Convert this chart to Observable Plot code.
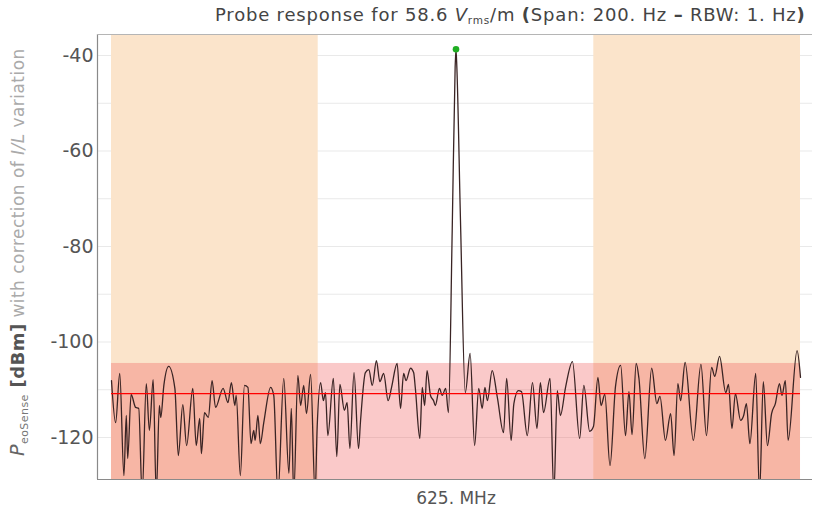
<!DOCTYPE html>
<html><head><meta charset="utf-8">
<script src="https://cdn.jsdelivr.net/npm/d3@7"></script>
<script src="https://cdn.jsdelivr.net/npm/@observablehq/plot@0.6"></script>
<style>body{margin:0;background:#fff;} svg{display:block;}</style>
</head><body><div id="chart"></div>
<script>
// Frequency offset from 625 MHz (Hz) and measured power (dBm)
const freq = [
-100,-98.8,-97.6,-96.4,-95.7,-95.3,-94.3,-93.0,-92.1,-91.1,-89.9,-89.0,-87.9,-87.0,-86.1,-85.7,-84.8,-83.4,-81.6,-80.6,
-79.3,-78.2,-76.4,-75.4,-74.4,-73.9,-73.0,-71.9,-70.8,-69.8,-67.6,-66.2,-65.2,-64.2,-63.8,-62.6,-61.4,-60.4,-59.5,-58.7,
-58.3,-57.5,-56.8,-55.8,-53.8,-52.9,-51.7,-50.0,-48.5,-47.8,-47.1,-45.9,-45.1,-44.2,-43.4,-42.2,-40.9,-40.3,-39.3,-38.5,
-37.9,-37.2,-35.6,-34.6,-33.7,-32.4,-31.6,-30.8,-29.6,-28.3,-27.7,-26.3,-25.3,-24.3,-23.1,-22.1,-21.0,-19.7,-18.7,-17.1,
-16.1,-15.2,-14.5,-13.2,-12.3,-11.8,-10.5,-9.8,-9.1,-8.4,-7.4,-6.5,-6.0,-4.8,-4.0,-3.0,-2.2,-1.1,-0.25,0,
0.25,1.3,2.7,4.1,5.4,6.6,7.6,8.4,9.1,10.5,12.0,13.8,14.7,16.0,16.8,18.1,19.0,20.7,22.2,23.5,
24.5,25.4,27.3,28.4,29.4,30.3,31.8,33.8,35.9,37.1,38.8,39.9,41.2,42.1,43.2,44.7,46.3,47.8,49.2,50.2,
51.1,52.3,53.1,54.8,56.8,58.3,59.2,60.8,62.3,63.3,64.4,65.2,66.5,68.9,71.1,72.7,74.2,75.1,76.5,78.3,
79.1,80.1,81.1,82.6,83.5,84.3,85.3,87.0,88.1,89.2,90.4,91.6,92.7,93.9,94.6,95.6,96.4,99.0,100
];
const power = [
-108.1,-116.9,-106.6,-128.0,-115.4,-124.4,-111.0,-113.7,-113.9,-132,-108.7,-118.5,-107.9,-132,-113.3,-115.8,-109.1,-105.1,-109.7,-123.8,
-113.1,-121.7,-109.7,-121.7,-116.0,-123.4,-114.8,-115.8,-108.1,-113.7,-109.7,-112.7,-108.5,-113.3,-111.2,-128.0,-109.1,-109.5,-121.3,-118.5,
-120.6,-115.4,-121.3,-116.9,-109.5,-111.2,-132,-107.6,-127.5,-113.9,-132,-107.0,-113.3,-109.1,-115.0,-106.8,-132,-117.9,-108.5,-112.3,
-110.6,-119.6,-107.6,-124.0,-108.9,-114.3,-112.7,-122.3,-106.4,-122.3,-116.4,-106.4,-105.8,-109.1,-103.9,-108.3,-106.6,-112.3,-109.5,-104.5,
-113.9,-106.6,-108.1,-105.5,-106.4,-109.7,-120.2,-109.5,-113.3,-106.0,-111.2,-112.3,-113.3,-109.7,-111.2,-109.7,-114.8,-76.7,-42.5,-38.7,
-42.5,-74.5,-110.6,-102.4,-121.7,-109.7,-113.9,-109.5,-112.3,-106.0,-111.6,-119.0,-107.6,-120.6,-112.9,-110.2,-110.4,-119.6,-108.5,-118.1,
-108.5,-114.8,-107.6,-132,-110.2,-115.4,-109.5,-104.1,-120.2,-109.1,-118.7,-117.7,-107.4,-113.3,-111.0,-125.9,-109.3,-104.9,-119.6,-110.4,
-119.4,-104.5,-107.6,-124.4,-105.5,-112.9,-111.4,-120.6,-115.0,-123.8,-108.7,-112.3,-104.3,-120.6,-104.7,-119.6,-105.3,-107.2,-103.0,-110.6,
-108.9,-118.1,-110.8,-116.4,-115.4,-112.9,-121.3,-106.6,-132,-108.3,-121.7,-115.0,-112.9,-108.7,-111.2,-108.1,-120.6,-101.8,-107.4
];
const peakFreq = [0];
const peakPower = [-38.7];
const noiseMean = [-110.8];
const noiseBandTop = [-104.5];
const spanLo = [-100];
const spanHi = [100];
const outerLo = [-100, 40];
const outerHi = [-40, 100];
const yTicks = [-120, -100, -80, -60, -40];
const gridValues = [-120, -110, -100, -90, -80, -70, -60, -50, -40];
const centerLabel = "625. MHz";
const xDomain = [-104.06, 103.48];
const yDomain = [-128.8, -35.6];

const trace = freq.map((f, i) => ({f, p: power[i]}));
const outer = outerLo.map((lo, i) => ({lo, hi: outerHi[i]}));
const band = [{lo: spanLo[0], hi: spanHi[0], bottom: yDomain[0], top: noiseBandTop[0]}];
const mean = [{lo: spanLo[0], hi: spanHi[0], v: noiseMean[0]}];
const peak = [{f: peakFreq[0], p: peakPower[0]}];

const FONT = "DejaVu Sans";

const chart = Plot.plot({
  width: 822, height: 515,
  marginLeft: 97, marginRight: 10, marginTop: 34, marginBottom: 36,
  style: {fontFamily: FONT, background: "#fff"},
  x: {domain: xDomain},
  y: {domain: yDomain},
  marks: [
    Plot.ruleY(gridValues, {stroke: "#e9e9e9", strokeWidth: 1}),
    Plot.rect(outer, {x1: "lo", x2: "hi", fill: "#fbe4cb"}),
    Plot.rect(band, {x1: "lo", x2: "hi", y1: "bottom", y2: "top", fill: "#f05050", fillOpacity: 0.31}),
    Plot.line(trace, {x: "f", y: "p", curve: "monotone-x", stroke: "#3a2424", strokeWidth: 1.3, clip: true}),
    Plot.ruleY(mean, {x1: "lo", x2: "hi", y: "v", stroke: "red", strokeWidth: 1.2}),
    Plot.dot(peak, {x: "f", y: "p", r: 3.3, fill: "#1fae22", stroke: "none"}),
    Plot.axisY({ticks: yTicks, tickSize: 0, tickPadding: 4, fontSize: 19, tickFormat: d => String(d), label: null, color: "#555"}),
    Plot.axisX({ticks: [0], tickSize: 0, tickPadding: 12, fontSize: 17, tickFormat: () => centerLabel, label: null, color: "#555"}),
    Plot.ruleX([xDomain[0]], {stroke: "#8a8a8a", strokeWidth: 1.2}),
    Plot.ruleY([yDomain[0]], {stroke: "#8a8a8a", strokeWidth: 1.2}),
    Plot.ruleY([yDomain[1]], {stroke: "#b5b5b5", strokeWidth: 1})
  ]
});

const svg = d3.select(chart);
// Title
const t = svg.append("text").attr("x", 215).attr("y", 21).attr("text-anchor", "start")
  .attr("font-family", FONT).attr("font-size", 18).attr("letter-spacing", 0.8).attr("fill", "#444");
t.append("tspan").text("Probe response for 58.6 ");
t.append("tspan").attr("font-style", "italic").text("V");
t.append("tspan").attr("font-size", 10.5).attr("dy", 3).text("rms");
t.append("tspan").attr("dy", -3).text("/m ");
t.append("tspan").attr("font-weight", "bold").text("(");
t.append("tspan").text("Span: 200. Hz ");
t.append("tspan").attr("font-weight", "bold").text("–");
t.append("tspan").text(" RBW: 1. Hz");
t.append("tspan").attr("font-weight", "bold").text(")");

// Y label
const yl = svg.append("text").attr("transform", "translate(24,456) rotate(-90)").attr("text-anchor", "start")
  .attr("font-family", FONT).attr("font-size", 17).attr("letter-spacing", 0.45).attr("fill", "#aaa");
yl.append("tspan").attr("font-style", "italic").attr("fill", "#666").attr("font-size", 19).text("P");
yl.append("tspan").attr("fill", "#777").attr("font-size", 11).attr("dy", 4).text("eoSense");
yl.append("tspan").attr("fill", "#555").attr("font-size", 18).attr("font-weight", "bold").attr("dy", -4).text(" [dBm]");
yl.append("tspan").text(" with correction of ");
yl.append("tspan").attr("font-style", "italic").text("I/L");
yl.append("tspan").text(" variation");

document.getElementById("chart").appendChild(chart);
</script>
</body></html>
